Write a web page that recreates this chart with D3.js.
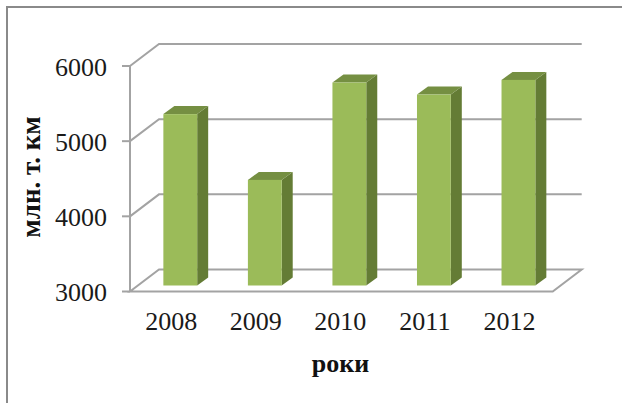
<!DOCTYPE html>
<html><head><meta charset="utf-8">
<script src="https://cdn.jsdelivr.net/npm/d3@7"></script>
<style>html,body{margin:0;padding:0;background:#fff}svg{display:block}text{font-family:"Liberation Serif",serif}</style>
</head><body>
<svg id="c" width="622" height="403"></svg>
<script>
const categories = ["2008","2009","2010","2011","2012"];
const values = [5280,4405,5700,5540,5735];
const yTicks = [3000,4000,5000,6000];
const xTitle = "роки";
const yTitle = "млн. т. км";

const svg = d3.select("#c");
const gridColor = "#a3a3a3";
const depth = {x:29, y:-22};
const barDepth = {x:11, y:-8};
const barOffset = {x:8, y:-6};
const x = d3.scaleBand().domain(categories).range([130,552.7]).paddingInner(0.6).paddingOuter(0.3);
const y = d3.scaleLinear().domain([3000,6000]).range([291.5,66]);

// frame
svg.append("path").attr("d","M7,403V7H622").attr("fill","none").attr("stroke","#8a8a8a").attr("stroke-width",2);

// floor
const y0 = y(3000);
const [xL,xR] = x.range();
svg.append("path").attr("fill","none").attr("stroke",gridColor).attr("stroke-width",2)
  .attr("d",`M${xL},${y0}H${xR}L${xR+depth.x},${y0+depth.y}H${xL+depth.x}Z`);

// walls / gridlines
yTicks.filter(t=>t>3000).forEach(t=>{
  svg.append("path").attr("fill","none").attr("stroke",gridColor).attr("stroke-width",2)
    .attr("d",`M${xL},${y(t)}L${xL+depth.x},${y(t)+depth.y}H${xR+depth.x}`);
});
svg.append("line").attr("x1",xL).attr("x2",xL).attr("y1",y(6000)).attr("y2",y0).attr("stroke",gridColor).attr("stroke-width",2);

// y ticks and labels
const axisY = svg.append("g").attr("transform",`translate(${xL},1)`)
  .call(d3.axisLeft(y).tickValues(yTicks).tickSize(0).tickPadding(23).tickFormat(d3.format("d")));
axisY.select(".domain").remove();
axisY.selectAll("text").attr("fill","#1a1a1a").style("font-size","26px").style("font-family",'"Liberation Serif"');
svg.append("g").selectAll("line").data(yTicks).join("line")
  .attr("x1",xL-8).attr("x2",xL).attr("y1",d=>y(d)).attr("y2",d=>y(d))
  .attr("stroke",gridColor).attr("stroke-width",2);

// x labels
const axisX = svg.append("g").attr("transform",`translate(-1,${y0})`)
  .call(d3.axisBottom(x).tickSize(0).tickPadding(20));
axisX.select(".domain").remove();
axisX.selectAll("text").attr("fill","#1a1a1a").style("font-size","26px").style("font-family",'"Liberation Serif"');

// bars
const bars = svg.append("g").selectAll("g").data(categories).join("g");
const bw = x.bandwidth();
const bx = c => x(c)+barOffset.x;
const base = y0+barOffset.y;
const barTop = (c,i) => base-(y0-y(values[i]));
bars.append("polygon").attr("fill","#647c35")
  .attr("points",(c,i)=>[[bx(c)+bw,barTop(c,i)],[bx(c)+bw+barDepth.x,barTop(c,i)+barDepth.y],[bx(c)+bw+barDepth.x,base+barDepth.y],[bx(c)+bw,base]].join(" "));
bars.append("polygon").attr("fill","#758f42")
  .attr("points",(c,i)=>[[bx(c),barTop(c,i)],[bx(c)+barDepth.x,barTop(c,i)+barDepth.y],[bx(c)+bw+barDepth.x,barTop(c,i)+barDepth.y],[bx(c)+bw,barTop(c,i)]].join(" "));
bars.append("rect").attr("fill","#9bbb59")
  .attr("x",c=>bx(c)).attr("y",(c,i)=>barTop(c,i)).attr("width",bw).attr("height",(c,i)=>base-barTop(c,i));

// titles
svg.append("text").attr("x",340.5).attr("y",372).attr("text-anchor","middle")
  .attr("font-weight","bold").attr("font-size",26).attr("fill","#111").text(xTitle);
svg.append("text").attr("transform","translate(40,177) rotate(-90)").attr("text-anchor","middle")
  .attr("font-weight","bold").attr("font-size",27).attr("fill","#111").text(yTitle);
</script>
</body></html>
